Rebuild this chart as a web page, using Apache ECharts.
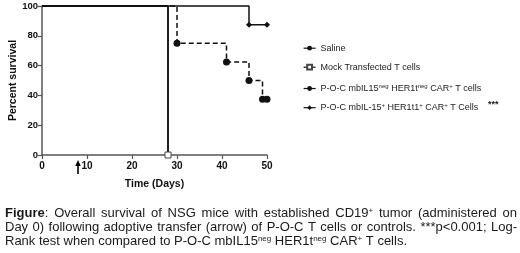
<!DOCTYPE html>
<html><head><meta charset="utf-8">
<script src="https://cdn.jsdelivr.net/npm/echarts@6/dist/echarts.min.js"></script>
<style>html,body{margin:0;padding:0;background:#fff}#c{width:520px;height:253px}</style>
</head><body><div id="c"></div>
<script>
// ---- data ----
const xTicks = [0, 10, 20, 30, 40, 50];
const yTicks = [0, 20, 40, 60, 80, 100];
const seriesNames = ['Saline', 'Mock Transfected T cells', 'P-O-C mbIL15neg HER1tneg CAR+ T cells', 'P-O-C mbIL-15+ HER1t1+ CAR+ T Cells'];
const legendRich = [
  '{a|Saline}',
  '{a|Mock Transfected T cells}',
  '{a|P-O-C mbIL15}{s|neg}{a| HER1t}{s|neg}{a| CAR}{s|+}{a| T cells}',
  '{a|P-O-C mbIL-15}{s|+}{a| HER1t1}{s|+}{a| CAR}{s|+}{a| T Cells}'
];
const salineData = [[0, 100], [28, 0]];
const mockData = [[0, 100], [28, 0]];
const negData = [[0, 100], [30, 75], [41, 62.5], [46, 50], [49, 37.5], [50, 37.5]];
const posData = [[0, 100], [46, 87.5], [50, 87.5]];
const arrowDay = 8;
const xTitle = 'Time (Days)';
const yTitle = 'Percent survival';
const significance = '***';
// caption: §bold§, ^sup^
const captionLines = [
  {justify: true, text: '§Figure§: Overall survival of NSG mice with established CD19^+^ tumor (administered on'},
  {justify: true, text: 'Day 0) following adoptive transfer (arrow) of P-O-C T cells or controls. ***p<0.001; Log-'},
  {justify: false, text: 'Rank test when compared to P-O-C mbIL15^neg^ HER1t^neg^ CAR^+^ T cells.'}
];

// ---- chart ----
const FONT = '"Liberation Sans", Arial, sans-serif';
const chart = echarts.init(document.getElementById('c'), null, {renderer: 'canvas'});
const ink = '#111';
const axisColor = '#555';

function withFirstHidden(arr) {
  return arr.map((p, i) => i === 0 ? {value: p, symbol: 'none'} : {value: p});
}

const option = {
  animation: false,
  backgroundColor: '#fff',
  grid: {left: 42, top: 6, width: 225, height: 149, containLabel: false},
  xAxis: {
    type: 'value', min: xTicks[0], max: xTicks[xTicks.length - 1], interval: 10,
    name: xTitle, nameLocation: 'middle', nameGap: 24,
    nameTextStyle: {fontFamily: FONT, fontWeight: 'bold', fontSize: 10.5, color: ink},
    axisLine: {show: true, lineStyle: {color: axisColor, width: 1.5}},
    axisTick: {show: true, length: 4, lineStyle: {color: axisColor, width: 1.2}},
    axisLabel: {fontFamily: FONT, fontWeight: 'bold', fontSize: 10, color: ink, margin: 6},
    splitLine: {show: false}
  },
  yAxis: {
    type: 'value', min: yTicks[0], max: yTicks[yTicks.length - 1], interval: 20,
    name: yTitle, nameLocation: 'middle', nameGap: 23,
    nameTextStyle: {fontFamily: FONT, fontWeight: 'bold', fontSize: 10.5, color: ink},
    axisLine: {show: true, lineStyle: {color: axisColor, width: 1.5}},
    axisTick: {show: true, length: 4, lineStyle: {color: axisColor, width: 1.2}},
    axisLabel: {fontFamily: FONT, fontWeight: 'bold', fontSize: 9.5, color: ink, margin: 4},
    splitLine: {show: false}
  },
  legend: [0, 1, 2, 3].map((i) => ({
    data: [seriesNames[i]],
    left: 298, top: [38.7, 57.7, 78.5, 97.7][i],
    itemWidth: 12, itemHeight: 6,
    lineStyle: {type: 'solid', width: 1.2},
    formatter: () => legendRich[i],
    textStyle: {
      fontFamily: FONT, fontSize: 9, color: '#222',
      rich: {
        a: {fontFamily: FONT, fontSize: 9, color: '#222'},
        s: {fontFamily: FONT, fontSize: 6, color: '#222', verticalAlign: 'top', padding: [0, 0, 4, 0]}
      }
    },
    selectedMode: false
  })),
  series: [
    {
      name: seriesNames[0], type: 'line', step: 'end', data: withFirstHidden(salineData),
      symbol: 'circle', symbolSize: 4, clip: false,
      lineStyle: {color: ink, width: 1.5}, itemStyle: {color: ink}
    },
    {
      name: seriesNames[1], type: 'line', step: 'end', data: withFirstHidden(mockData),
      symbol: 'rect', symbolSize: 6, clip: false,
      lineStyle: {color: ink, width: 1.5}, itemStyle: {color: '#fff', borderColor: '#444', borderWidth: 1}
    },
    {
      name: seriesNames[2], type: 'line', step: 'end', data: withFirstHidden(negData),
      symbol: 'circle', symbolSize: 7, clip: false,
      lineStyle: {color: ink, width: 1.5, type: [5, 3]}, itemStyle: {color: ink}
    },
    {
      name: seriesNames[3], type: 'line', step: 'end', data: withFirstHidden(posData),
      symbol: 'diamond', symbolSize: 6, clip: false,
      lineStyle: {color: ink, width: 1.5}, itemStyle: {color: ink}
    }
  ]
};
chart.setOption(option);

// ---- caption layout (justified) ----
const capSize = 13;
const fonts = {
  n: capSize + 'px ' + FONT,
  b: 'bold ' + capSize + 'px ' + FONT,
  s: Math.round(capSize * 0.6) + 'px ' + FONT
};
const mctx = document.createElement('canvas').getContext('2d');
function measure(t, st) { mctx.font = fonts[st]; return mctx.measureText(t).width; }
function parseWord(w) {
  const segs = []; let st = 'n'; let buf = '';
  for (const ch of w) {
    if (ch === '§') { if (buf) segs.push([buf, st]); buf = ''; st = st === 'b' ? 'n' : 'b'; }
    else if (ch === '^') { if (buf) segs.push([buf, st]); buf = ''; st = st === 's' ? 'n' : 's'; }
    else buf += ch;
  }
  if (buf) segs.push([buf, st]);
  return segs;
}
const capRich = {
  n: {font: fonts.n, fill: '#1a1a1a'},
  b: {font: fonts.b, fill: '#1a1a1a'},
  s: {font: fonts.s, fill: '#1a1a1a', verticalAlign: 'top', padding: [0, 0, 5, 0]}
};
const capLeft = 5, capRight = 517;
const capY = [213.5, 227.5, 241];
const graphics = [];
captionLines.forEach((line, li) => {
  const words = line.text.split(' ').map(parseWord);
  const widths = words.map(segs => segs.reduce((s, [t, st]) => s + measure(t, st), 0));
  const total = widths.reduce((a, b) => a + b, 0);
  const gap = line.justify ? (capRight - capLeft - total) / (words.length - 1) : measure(' ', 'n');
  let x = capLeft;
  words.forEach((segs, wi) => {
    graphics.push({
      type: 'text', x: x, y: capY[li], silent: true,
      style: {
        text: segs.map(([t, st]) => '{' + st + '|' + t + '}').join(''),
        rich: capRich, verticalAlign: 'middle', align: 'left'
      }
    });
    x += widths[wi] + gap;
  });
});

// significance stars next to last legend entry
graphics.push({
  type: 'text', x: 488, y: 105, silent: true,
  style: {text: significance, font: 'bold 9px ' + FONT, fill: '#222', verticalAlign: 'middle'}
});

// arrow marking adoptive transfer day
const ax = chart.convertToPixel({xAxisIndex: 0}, arrowDay);
const axisY = chart.convertToPixel({yAxisIndex: 0}, 0);
graphics.push({
  type: 'line', silent: true,
  shape: {x1: ax, y1: axisY + 9, x2: ax, y2: axisY + 19},
  style: {stroke: '#000', lineWidth: 1.6}
});
graphics.push({
  type: 'polygon', silent: true,
  shape: {points: [[ax, axisY + 5], [ax - 2.8, axisY + 11], [ax + 2.8, axisY + 11]]},
  style: {fill: '#000'}
});
chart.setOption({graphic: graphics});
</script>
</body></html>
